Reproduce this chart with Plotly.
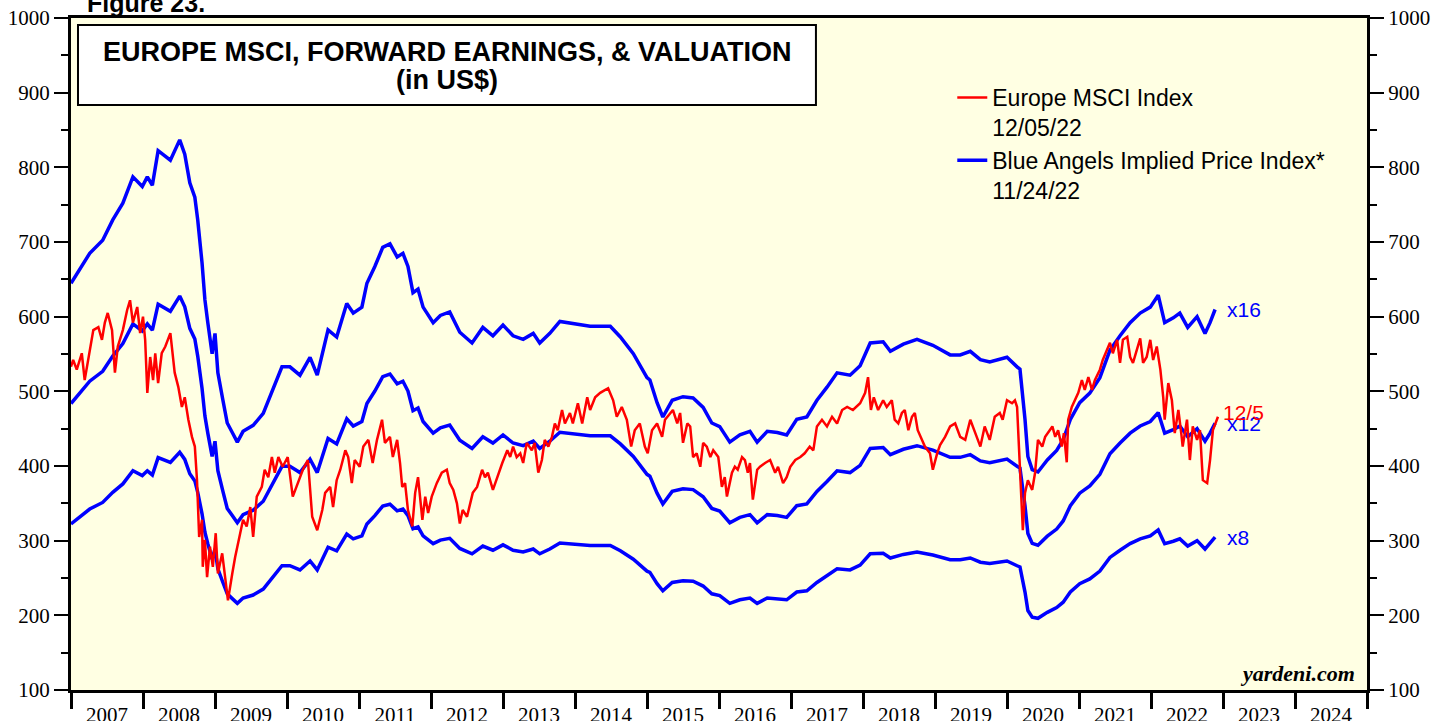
import plotly.graph_objects as go

# ---------------- DATA ----------------
# Forward earnings (US$) read off the x8 / x12 / x16 valuation bands
eps_years = [2007.00, 2007.26, 2007.44, 2007.58, 2007.72, 2007.86, 2007.99, 2008.06, 2008.13, 2008.21,
             2008.38, 2008.51, 2008.58, 2008.65, 2008.72, 2008.76, 2008.82, 2008.86, 2008.90, 2008.96,
             2009.00, 2009.04, 2009.11, 2009.17, 2009.24, 2009.31, 2009.39, 2009.53, 2009.67, 2009.81,
             2009.93, 2010.04, 2010.18, 2010.32, 2010.42, 2010.57, 2010.69, 2010.83, 2010.92, 2011.04,
             2011.11, 2011.22, 2011.33, 2011.43, 2011.53, 2011.61, 2011.68, 2011.75, 2011.82, 2011.89,
             2012.03, 2012.13, 2012.26, 2012.40, 2012.57, 2012.72, 2012.86, 2013.00, 2013.14, 2013.28,
             2013.42, 2013.51, 2013.65, 2013.79, 2013.97, 2014.21, 2014.35, 2014.49, 2014.63, 2014.81,
             2015.00, 2015.04, 2015.14, 2015.22, 2015.35, 2015.50, 2015.64, 2015.78, 2015.90, 2016.01,
             2016.15, 2016.29, 2016.43, 2016.53, 2016.67, 2016.81, 2016.94, 2017.08, 2017.22, 2017.36,
             2017.50, 2017.64, 2017.82, 2017.96, 2018.10, 2018.28, 2018.38, 2018.56, 2018.75, 2018.97,
             2019.21, 2019.35, 2019.49, 2019.63, 2019.76, 2020.00, 2020.14, 2020.18, 2020.25, 2020.29,
             2020.35, 2020.43, 2020.56, 2020.69, 2020.78, 2020.88, 2021.01, 2021.15, 2021.29, 2021.43,
             2021.57, 2021.71, 2021.85, 2021.99, 2022.10, 2022.19, 2022.31, 2022.40, 2022.51, 2022.64,
             2022.75, 2022.82, 2022.89]
fwd_eps = [40.3, 42.8, 43.9, 45.6, 47.0, 49.2, 48.4, 49.2, 48.5, 51.4,
           50.6, 52.3, 51.1, 48.7, 47.5, 45.6, 42.0, 38.9, 37.0, 34.4,
           36.1, 32.8, 30.5, 28.6, 27.8, 27.0, 27.9, 28.4, 29.4, 31.6,
           33.3, 33.3, 32.6, 34.1, 32.6, 36.4, 35.8, 38.6, 37.8, 38.3,
           40.3, 41.7, 43.3, 43.6, 42.5, 42.8, 41.7, 39.5, 39.8, 38.3,
           37.0, 37.6, 37.9, 36.2, 35.3, 36.6, 35.9, 36.8, 35.9, 35.6,
           36.1, 35.3, 36.1, 37.1, 36.9, 36.7, 36.7, 36.7, 35.8, 34.4,
           32.4, 32.2, 30.3, 29.1, 30.5, 30.8, 30.7, 29.9, 28.6, 28.3,
           27.0, 27.6, 27.9, 27.0, 27.9, 27.8, 27.6, 28.9, 29.1, 30.5,
           31.6, 32.8, 32.6, 33.4, 35.3, 35.4, 34.6, 35.2, 35.6, 35.1,
           34.3, 34.3, 34.6, 33.9, 33.7, 34.1, 33.3, 33.1, 28.9, 25.8,
           24.7, 24.5, 25.5, 26.3, 27.2, 28.9, 30.3, 31.1, 32.4, 34.7,
           35.9, 37.0, 37.8, 38.3, 39.3, 37.0, 37.4, 37.8, 36.6, 37.5,
           36.1, 37.0, 38.1]
multiples = [8, 12, 16]

# Europe MSCI price index (US$)
msci_years = [2007.00, 2007.03, 2007.08, 2007.15, 2007.19, 2007.24, 2007.31, 2007.38, 2007.43, 2007.47,
              2007.51, 2007.57, 2007.61, 2007.65, 2007.72, 2007.78, 2007.82, 2007.86, 2007.92, 2007.96,
              2008.00, 2008.03, 2008.06, 2008.10, 2008.14, 2008.17, 2008.21, 2008.26, 2008.31, 2008.38,
              2008.40, 2008.44, 2008.49, 2008.54, 2008.58, 2008.63, 2008.68, 2008.72, 2008.75, 2008.78,
              2008.82, 2008.83, 2008.86, 2008.89, 2008.93, 2008.97, 2009.01, 2009.04, 2009.10, 2009.14,
              2009.18, 2009.24, 2009.28, 2009.35, 2009.39, 2009.44, 2009.49, 2009.53, 2009.58, 2009.65,
              2009.69, 2009.74, 2009.79, 2009.83, 2009.88, 2009.94, 2010.01, 2010.08, 2010.15, 2010.22,
              2010.29, 2010.35, 2010.42, 2010.49, 2010.53, 2010.60, 2010.64, 2010.69, 2010.74, 2010.81,
              2010.85, 2010.90, 2010.94, 2011.01, 2011.06, 2011.13, 2011.19, 2011.25, 2011.32, 2011.36,
              2011.43, 2011.47, 2011.53, 2011.57, 2011.60, 2011.64, 2011.68, 2011.74, 2011.78, 2011.82,
              2011.88, 2011.92, 2011.96, 2012.01, 2012.08, 2012.15, 2012.22, 2012.26, 2012.31, 2012.36,
              2012.40, 2012.44, 2012.50, 2012.54, 2012.58, 2012.64, 2012.71, 2012.75, 2012.79, 2012.86,
              2012.92, 2012.99, 2013.06, 2013.10, 2013.14, 2013.19, 2013.24, 2013.28, 2013.33, 2013.40,
              2013.44, 2013.49, 2013.54, 2013.58, 2013.63, 2013.68, 2013.72, 2013.76, 2013.82, 2013.86,
              2013.93, 2013.97, 2014.04, 2014.10, 2014.17, 2014.21, 2014.28, 2014.35, 2014.42, 2014.46,
              2014.53, 2014.58, 2014.65, 2014.72, 2014.78, 2014.83, 2014.90, 2014.97, 2015.01, 2015.07,
              2015.14, 2015.21, 2015.25, 2015.32, 2015.36, 2015.42, 2015.46, 2015.50, 2015.56, 2015.60,
              2015.64, 2015.69, 2015.74, 2015.78, 2015.83, 2015.88, 2015.92, 2015.99, 2016.04, 2016.08,
              2016.11, 2016.18, 2016.22, 2016.26, 2016.32, 2016.36, 2016.40, 2016.43, 2016.47, 2016.53,
              2016.57, 2016.64, 2016.71, 2016.78, 2016.82, 2016.89, 2016.94, 2016.99, 2017.06, 2017.13,
              2017.19, 2017.26, 2017.31, 2017.36, 2017.43, 2017.50, 2017.57, 2017.64, 2017.71, 2017.78,
              2017.86, 2017.96, 2018.03, 2018.07, 2018.11, 2018.15, 2018.21, 2018.28, 2018.33, 2018.40,
              2018.44, 2018.49, 2018.54, 2018.58, 2018.63, 2018.68, 2018.72, 2018.76, 2018.82, 2018.86,
              2018.93, 2018.97, 2019.03, 2019.07, 2019.14, 2019.21, 2019.28, 2019.35, 2019.42, 2019.49,
              2019.56, 2019.63, 2019.69, 2019.76, 2019.83, 2019.90, 2019.94, 2020.00, 2020.07, 2020.11,
              2020.14, 2020.18, 2020.22, 2020.25, 2020.29, 2020.35, 2020.39, 2020.43, 2020.49, 2020.53,
              2020.57, 2020.63, 2020.67, 2020.71, 2020.76, 2020.79, 2020.83, 2020.85, 2020.90, 2020.94,
              2020.99, 2021.04, 2021.08, 2021.13, 2021.18, 2021.22, 2021.29, 2021.33, 2021.39, 2021.43,
              2021.47, 2021.53, 2021.57, 2021.61, 2021.67, 2021.71, 2021.75, 2021.81, 2021.85, 2021.89,
              2021.94, 2021.99, 2022.03, 2022.08, 2022.13, 2022.17, 2022.19, 2022.24, 2022.29, 2022.33,
              2022.38, 2022.42, 2022.44, 2022.50, 2022.54, 2022.58, 2022.64, 2022.68, 2022.72, 2022.78,
              2022.82, 2022.86, 2022.90, 2022.93]
msci_values = [533, 542, 529, 551, 515, 542, 582, 586, 569, 592,
               605, 582, 525, 560, 582, 609, 622, 592, 613, 578,
               600, 569, 498, 546, 515, 551, 511, 551, 560, 578,
               560, 525, 506, 479, 492, 462, 439, 426, 381, 305,
               328, 265, 301, 251, 292, 265, 310, 256, 283, 251,
               220, 256, 278, 310, 328, 319, 345, 305, 359, 372,
               395, 385, 412, 391, 412, 399, 412, 359, 377, 395,
               408, 332, 314, 341, 364, 372, 345, 381, 395, 421,
               412, 377, 408, 399, 426, 435, 404, 435, 462, 431,
               439, 412, 435, 404, 372, 377, 341, 319, 364, 385,
               328, 359, 337, 359, 377, 391, 395, 377, 368, 350,
               323, 341, 332, 350, 364, 372, 395, 385, 391, 368,
               385, 404, 421, 412, 426, 412, 417, 404, 431, 421,
               431, 391, 408, 435, 426, 439, 457, 448, 475, 457,
               471, 457, 484, 457, 492, 475, 492, 498, 502, 504,
               488, 466, 479, 462, 426, 448, 457, 426, 417, 448,
               457, 439, 462, 471, 475, 457, 471, 431, 457, 453,
               412, 417, 399, 431, 426, 412, 421, 412, 372, 385,
               359, 391, 399, 395, 412, 408, 391, 404, 355, 395,
               399, 404, 408, 391, 399, 377, 385, 399, 408, 412,
               417, 426, 421, 453, 462, 453, 466, 457, 475, 479,
               475, 484, 498, 519, 475, 492, 475, 488, 479, 488,
               462, 457, 471, 475, 448, 466, 471, 448, 435, 426,
               417, 395, 417, 428, 439, 453, 457, 439, 435, 462,
               444, 426, 453, 435, 466, 471, 462, 488, 484, 488,
               479, 399, 314, 364, 381, 368, 391, 435, 426, 439,
               444, 453, 439, 448, 426, 444, 405, 462, 479, 488,
               498, 515, 502, 519, 502, 515, 529, 542, 555, 565,
               551, 569, 538, 569, 573, 546, 538, 560, 571, 538,
               546, 569, 542, 560, 529, 492, 462, 511, 488, 444,
               475, 444, 426, 462, 408, 453, 435, 448, 381, 377,
               408, 448, 460, 466]

year_ticks = list(range(2007, 2026))
year_labels = ["2007", "2008", "2009", "2010", "2011", "2012", "2013", "2014", "2015",
               "2016", "2017", "2018", "2019", "2020", "2021", "2022", "2023", "2024"]
y_ticks = [100, 200, 300, 400, 500, 600, 700, 800, 900, 1000]

# ---------------- FIGURE ----------------
BLUE = "#0000FF"
RED = "#FF0000"
SERIF = "Liberation Serif, Times New Roman, serif"
SANS = "Liberation Sans, Arial, sans-serif"

fig = go.Figure()
for m in multiples:
    fig.add_trace(go.Scatter(
        x=eps_years, y=[m * v for v in fwd_eps], mode="lines",
        line=dict(color=BLUE, width=3.5),
        name="Blue Angels Implied Price Index*<br>11/24/22", legendgroup="blue",
        showlegend=(m == 16), legendrank=2, hoverinfo="x+y"))
fig.add_trace(go.Scatter(
    x=msci_years, y=msci_values, mode="lines",
    line=dict(color=RED, width=2.5), legendgroup="red",
    name="Europe MSCI Index<br>12/05/22", legendrank=1))
# trace carrying the right-hand axis
fig.add_trace(go.Scatter(
    x=msci_years, y=msci_values, mode="lines", yaxis="y2",
    line=dict(color="rgba(0,0,0,0)", width=0), showlegend=False, hoverinfo="skip"))

# end labels
last_eps = fwd_eps[-1]
for m in multiples:
    fig.add_annotation(x=eps_years[-1], y=m * last_eps, text="x%d" % m, showarrow=False,
                       xanchor="left", xshift=10, font=dict(family=SANS, size=21, color=BLUE))
fig.add_annotation(x=msci_years[-1], y=msci_values[-1], text="12/5", showarrow=False,
                   xanchor="left", xshift=3, yshift=4, font=dict(family=SANS, size=21, color=RED))

# title box
fig.add_shape(type="rect", xref="paper", yref="paper", x0=0.0054, x1=0.5748, y0=0.8705, y1=0.9896,
              line=dict(color="black", width=2), fillcolor="white", layer="above")
fig.add_annotation(xref="paper", yref="paper", x=0.2905, y=(690 - 52) / 672, xanchor="center",
                   yanchor="middle", showarrow=False,
                   text="<b>EUROPE MSCI, FORWARD EARNINGS, & VALUATION</b>",
                   font=dict(family=SANS, size=27, color="black"))
fig.add_annotation(xref="paper", yref="paper", x=0.2905, y=(690 - 80) / 672, xanchor="center",
                   yanchor="middle", showarrow=False, text="<b>(in US$)</b>",
                   font=dict(family=SANS, size=27, color="black"))
fig.add_annotation(xref="paper", yref="paper", x=1.0, y=0.0, xanchor="right", yanchor="bottom",
                   xshift=-10, yshift=2, showarrow=False, text="<b><i>yardeni.com</i></b>",
                   font=dict(family=SERIF, size=22, color="black"))
fig.add_annotation(xref="paper", yref="paper", x=0.011, y=1.0, xanchor="left", yanchor="bottom",
                   yshift=-1, showarrow=False, text="<b>Figure 23.</b>",
                   font=dict(family=SANS, size=25, color="black"))

axis_font = dict(family=SERIF, size=21, color="black")
fig.update_layout(
    width=1448, height=721,
    margin=dict(l=71, r=81, t=18, b=31, autoexpand=False),
    paper_bgcolor="white", plot_bgcolor="#FFFFE3",
    showlegend=True,
    legend=dict(x=0.680, y=(690 - 76) / 672, xanchor="left", yanchor="top",
                bgcolor="rgba(0,0,0,0)",
                font=dict(family=SANS, size=23, color="black"), valign="top",
                tracegroupgap=8, traceorder="normal"),
    xaxis=dict(range=[2007, 2025], showgrid=False, zeroline=False, automargin=False,
               tickmode="array", tickvals=[y + 0.5 for y in year_ticks[:-1]], ticktext=year_labels,
               ticks="", ticklabelstandoff=4, tickfont=axis_font,
               showline=True, linecolor="black", linewidth=3, mirror=True,
               minor=dict(tickmode="array", tickvals=year_ticks, ticks="outside", ticklen=16,
                          tickwidth=3, tickcolor="black")),
    yaxis=dict(range=[100, 1000], showgrid=False, zeroline=False, automargin=False,
               tickmode="array", tickvals=y_ticks, ticks="outside", ticklen=14, tickwidth=2,
               tickcolor="black", tickfont=axis_font,
               showline=True, linecolor="black", linewidth=3, mirror=True,
               minor=dict(dtick=50, ticks="outside", ticklen=7, tickwidth=2, tickcolor="black")),
    yaxis2=dict(range=[100, 1000], overlaying="y", side="right", showgrid=False, zeroline=False,
                automargin=False,
                tickmode="array", tickvals=y_ticks, ticks="outside", ticklen=14, tickwidth=2,
                tickcolor="black", tickfont=axis_font,
                showline=True, linecolor="black", linewidth=3,
                minor=dict(dtick=50, ticks="outside", ticklen=7, tickwidth=2, tickcolor="black")),
)

fig.write_html("out.html", config={"displayModeBar": False},
               post_script="document.body.style.margin='0px';document.body.style.overflow='hidden';")
